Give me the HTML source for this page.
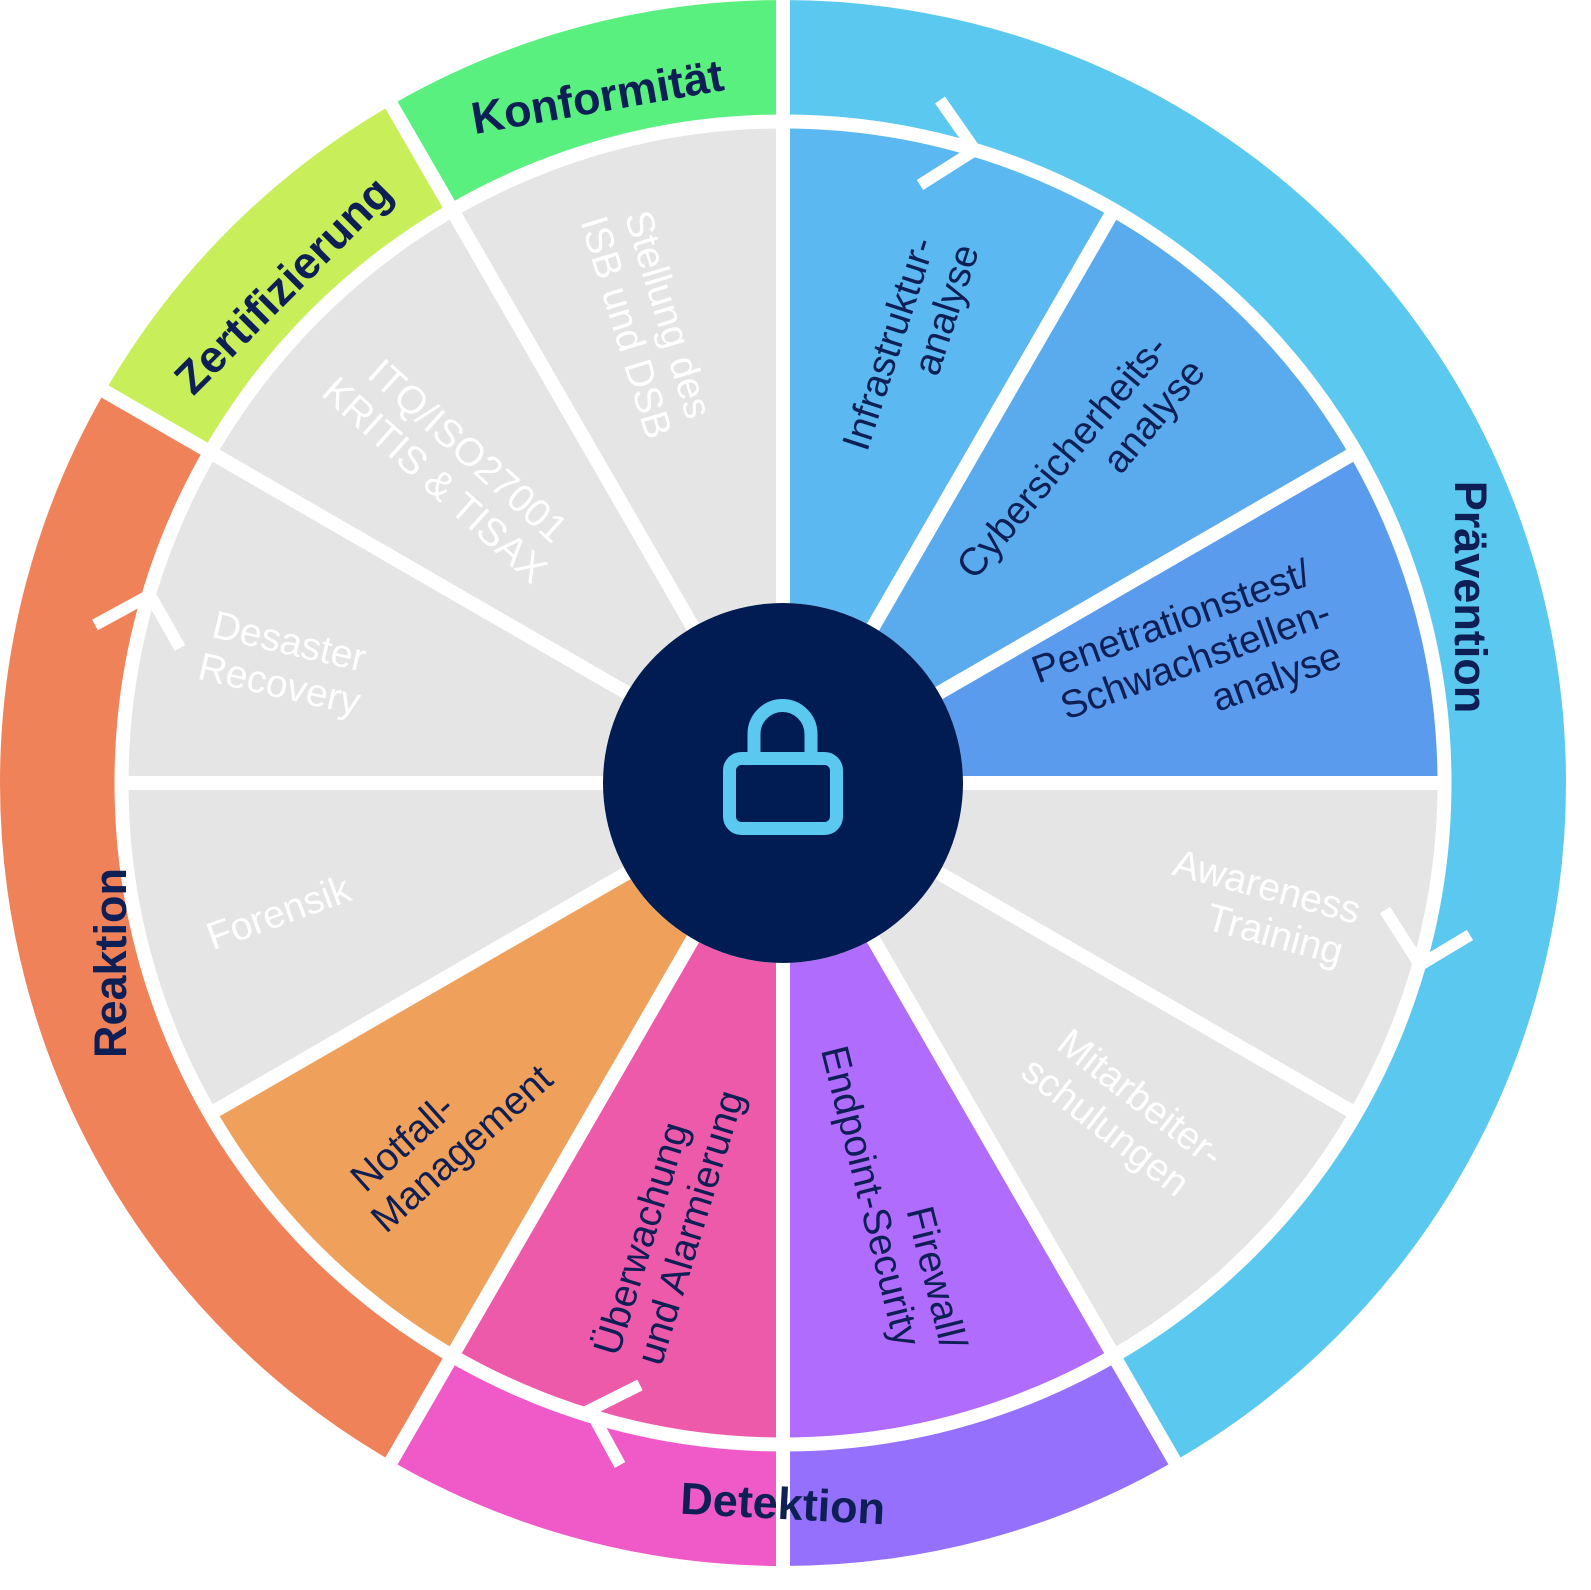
<!DOCTYPE html>
<html><head><meta charset="utf-8"><style>
html,body{margin:0;padding:0;background:#fff;}
svg{display:block;}
text{font-family:"Liberation Sans",sans-serif;}
.in{font-size:39px;}
.nv{fill:#0d1f55;}
.wh{fill:#ffffff;}
.rl{font-size:45px;font-weight:bold;fill:#0d1f55;}
</style></head><body>
<svg width="1591" height="1590" viewBox="0 0 1591 1590" xmlns="http://www.w3.org/2000/svg">
<g transform="rotate(-90 783 783)" fill="none">
 <circle cx="783" cy="783" r="725.5" stroke="#5bc8f0" stroke-width="115" stroke-dasharray="1899.3 4558.4" stroke-dashoffset="0"/>
 <circle cx="783" cy="783" r="725.5" stroke="#9570fc" stroke-width="115" stroke-dasharray="379.9 4558.4" stroke-dashoffset="-1899.3"/>
 <circle cx="783" cy="783" r="725.5" stroke="#f05ac8" stroke-width="115" stroke-dasharray="379.9 4558.4" stroke-dashoffset="-2279.2"/>
 <circle cx="783" cy="783" r="725.5" stroke="#f0825a" stroke-width="115" stroke-dasharray="1139.6 4558.4" stroke-dashoffset="-2659.1"/>
 <circle cx="783" cy="783" r="725.5" stroke="#c8ef5a" stroke-width="115" stroke-dasharray="379.9 4558.4" stroke-dashoffset="-3798.7"/>
 <circle cx="783" cy="783" r="725.5" stroke="#5af080" stroke-width="115" stroke-dasharray="379.9 4558.4" stroke-dashoffset="-4178.5"/>
 <circle cx="783" cy="783" r="417.5" stroke="#e5e5e5" stroke-width="475"/>
 <circle cx="783" cy="783" r="417.5" stroke="#5bb8f0" stroke-width="475" stroke-dasharray="218.6 2623.2" stroke-dashoffset="0"/>
 <circle cx="783" cy="783" r="417.5" stroke="#5aaaee" stroke-width="475" stroke-dasharray="218.6 2623.2" stroke-dashoffset="-218.6"/>
 <circle cx="783" cy="783" r="417.5" stroke="#5b9bee" stroke-width="475" stroke-dasharray="218.6 2623.2" stroke-dashoffset="-437.2"/>
 <circle cx="783" cy="783" r="417.5" stroke="#b06cfc" stroke-width="475" stroke-dasharray="218.6 2623.2" stroke-dashoffset="-1093"/>
 <circle cx="783" cy="783" r="417.5" stroke="#ee5aaa" stroke-width="475" stroke-dasharray="218.6 2623.2" stroke-dashoffset="-1311.6"/>
 <circle cx="783" cy="783" r="417.5" stroke="#efa05a" stroke-width="475" stroke-dasharray="218.6 2623.2" stroke-dashoffset="-1530.2"/>
 <circle cx="783" cy="783" r="661.5" stroke="#fff" stroke-width="14"/>
</g>
<g stroke="#fff" stroke-width="14" fill="none">
 <line x1="783" y1="783" x2="783" y2="-30"/>
 <line x1="783" y1="783" x2="1114" y2="209.7"/>
 <line x1="783" y1="783" x2="1356.3" y2="452"/>
 <line x1="783" y1="783" x2="1445" y2="783"/>
 <line x1="783" y1="783" x2="1356.3" y2="1114"/>
 <line x1="783" y1="783" x2="1193" y2="1493"/>
 <line x1="783" y1="783" x2="783" y2="1620"/>
 <line x1="783" y1="783" x2="373" y2="1493"/>
 <line x1="783" y1="783" x2="209.7" y2="1114"/>
 <line x1="783" y1="783" x2="121" y2="783"/>
 <line x1="783" y1="783" x2="73" y2="373"/>
 <line x1="783" y1="783" x2="373" y2="73"/>
 <polyline points="940,100 975,150 920,185" stroke-width="12"/>
 <polyline points="1385,910 1420,965 1470,935" stroke-width="12"/>
 <polyline points="640,1385 590,1410 620,1465" stroke-width="12"/>
 <polyline points="95,625 150,595 180,648" stroke-width="12"/>
</g>
<circle cx="783" cy="783" r="180" fill="#001c52"/>
<g stroke="#5bc8f0" stroke-width="13" fill="none">
 <rect x="729.5" y="758.5" width="107" height="70" rx="12"/>
 <path d="M754,758 V734 A28.5,28.5 0 0 1 811,734 V758"/>
</g>
<g class="in">
 <text class="nv" text-anchor="middle" transform="translate(910,340) rotate(-72)"><tspan x="-10" dy="-6">Infrastruktur-</tspan><tspan x="40" dy="44">analyse</tspan></text>
 <text class="nv" text-anchor="middle" transform="translate(1080,465) rotate(-50)"><tspan x="-5" dy="-6">Cybersicherheits-</tspan><tspan x="85" dy="44">analyse</tspan></text>
 <text class="nv" text-anchor="middle" transform="translate(1185,660) rotate(-20)"><tspan x="0" dy="-28">Penetrationstest/</tspan><tspan x="10" dy="44">Schwachstellen-</tspan><tspan x="80" dy="44">analyse</tspan></text>
 <text class="wh" text-anchor="middle" transform="translate(1262,905) rotate(15)"><tspan x="0" dy="-6">Awareness</tspan><tspan x="20" dy="44">Training</tspan></text>
 <text class="wh" text-anchor="middle" transform="translate(1125,1110) rotate(38)"><tspan x="5" dy="-6">Mitarbeiter-</tspan><tspan x="-5" dy="44">schulungen</tspan></text>
 <text class="nv" text-anchor="middle" transform="translate(895,1190) rotate(76)"><tspan x="95" dy="-6">Firewall/</tspan><tspan x="0" dy="44">Endpoint-Security</tspan></text>
 <text class="nv" text-anchor="middle" transform="translate(665,1225) rotate(-73)"><tspan x="-20" dy="-6">Überwachung</tspan><tspan x="5" dy="44">und Alarmierung</tspan></text>
 <text class="nv" text-anchor="middle" transform="translate(445,1130) rotate(-42)"><tspan x="-40" dy="-6">Notfall-</tspan><tspan x="0" dy="44">Management</tspan></text>
 <text class="wh" text-anchor="middle" transform="translate(283,925) rotate(-20)">Forensik</text>
 <text class="wh" text-anchor="middle" transform="translate(285,660) rotate(13)"><tspan x="0" dy="-6">Desaster</tspan><tspan x="0" dy="44">Recovery</tspan></text>
 <text class="wh" text-anchor="middle" transform="translate(455,465) rotate(42)"><tspan x="0" dy="-6">ITQ/ISO27001</tspan><tspan x="-5" dy="44">KRITIS &amp; TISAX</tspan></text>
 <text class="wh" text-anchor="middle" transform="translate(650,320) rotate(73)"><tspan x="0" dy="-6">Stellung des</tspan><tspan x="0" dy="44">ISB und DSB</tspan></text>
</g>
<text class="rl" text-anchor="middle" transform="translate(1455,597) rotate(90)">Prävention</text>
<text class="rl" text-anchor="middle" transform="translate(126,963) rotate(-90)">Reaktion</text>
<text class="rl" text-anchor="middle" transform="translate(782,1519) rotate(3)">Detektion</text>
<text class="rl" text-anchor="middle" transform="translate(600,112) rotate(-10)">Konformität</text>
<text class="rl" text-anchor="middle" transform="translate(294,296) rotate(-45)">Zertifizierung</text>
</svg>
</body></html>
